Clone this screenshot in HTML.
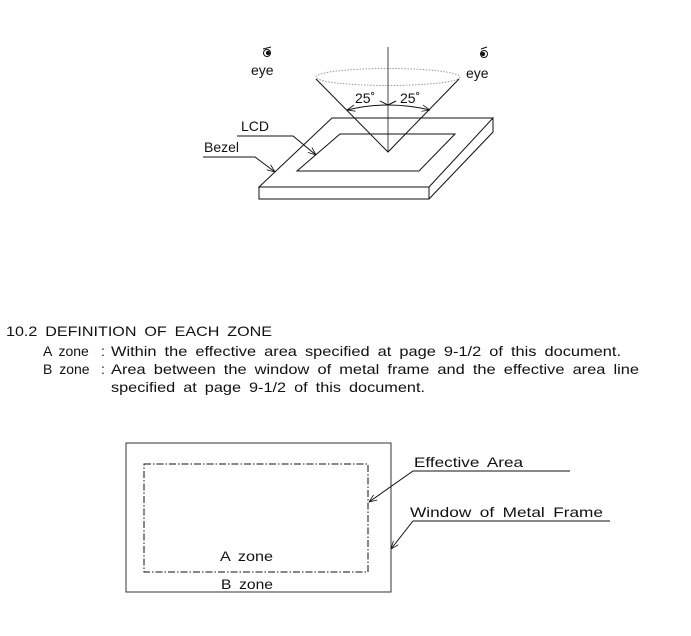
<!DOCTYPE html>
<html><head><meta charset="utf-8"><style>
html,body{margin:0;padding:0;background:#fff;}
svg{display:block;}
text{font-family:"Liberation Sans",sans-serif;fill:#111;}
</style></head><body>
<svg width="691" height="636" viewBox="0 0 691 636" xmlns="http://www.w3.org/2000/svg">
<defs>
<marker id="ar" viewBox="0 0 10 10" refX="10" refY="5" markerWidth="8" markerHeight="8" orient="auto-start-reverse" markerUnits="userSpaceOnUse">
<path d="M0,1 L10,5 L0,9" fill="none" stroke="#111" stroke-width="1"/>
</marker>
</defs>
<g stroke="#111" stroke-width="1" fill="none">
<circle cx="267" cy="53" r="3.5"/><circle cx="268" cy="53" r="1.6" fill="#111"/>
<path d="M263,49 L271,47"/>
<circle cx="484" cy="54" r="3.5"/><circle cx="483" cy="54" r="1.6" fill="#111"/>
<path d="M481,49 L487,47"/>
<ellipse cx="388" cy="77" rx="72" ry="8.5" stroke="#999" stroke-dasharray="1.5,1.5"/>
<line x1="388" y1="47" x2="388" y2="152" stroke="#444"/>
<path d="M316,79 L388,152 L459,79"/>
<path d="M347,110 Q388,100 430,110" marker-start="url(#ar)" marker-end="url(#ar)"/>
<path d="M388,105 L380,101 M388,105 L396,101"/>
<path d="M332,118 L493,118 L429,187 L259,187 Z"/>
<rect x="259" y="187" width="170" height="12"/>
<path d="M493,118 L493,132 L429,199"/>
<path d="M340,134 L455,134 L419,171 L297,171 Z"/>
<path d="M237,136 L293,136 L316,155" marker-end="url(#ar)"/>
<path d="M203,157 L255,157 L275,172" marker-end="url(#ar)"/>
<rect x="126" y="443" width="265" height="149" stroke="#333"/>
<rect x="144" y="464" width="224" height="108" stroke-dasharray="7,2,1.5,2"/>
<path d="M570,471 L413,471 L369,502" marker-end="url(#ar)"/>
<path d="M610,521 L413,521 L391,549" marker-end="url(#ar)"/>
</g>
<g font-size="14" style="word-spacing:3px">
<text x="251" y="75">eye</text>
<text x="466" y="78">eye</text>
<text x="355" y="103" style="word-spacing:0">25˚</text>
<text x="400" y="103" style="word-spacing:0">25˚</text>
<text x="241" y="131">LCD</text>
<text x="204" y="152">Bezel</text>
<text x="6" y="336" textLength="266" lengthAdjust="spacingAndGlyphs">10.2 DEFINITION OF EACH ZONE</text>
<text x="43" y="356">A zone</text><text x="101" y="356">:</text>
<text x="111" y="356" textLength="510" lengthAdjust="spacingAndGlyphs">Within the effective area specified at page 9-1/2 of this document.</text>
<text x="43" y="374">B zone</text><text x="101" y="374">:</text>
<text x="111" y="374" textLength="528" lengthAdjust="spacingAndGlyphs">Area between the window of metal frame and the effective area line</text>
<text x="111" y="392" textLength="314" lengthAdjust="spacingAndGlyphs">specified at page 9-1/2 of this document.</text>
<text x="414" y="467" textLength="109" lengthAdjust="spacingAndGlyphs">Effective Area</text>
<text x="410" y="517" textLength="193" lengthAdjust="spacingAndGlyphs">Window of Metal Frame</text>
<text x="220" y="561" textLength="53" lengthAdjust="spacingAndGlyphs">A zone</text>
<text x="221" y="589" textLength="52" lengthAdjust="spacingAndGlyphs">B zone</text>
</g>
</svg>
</body></html>
